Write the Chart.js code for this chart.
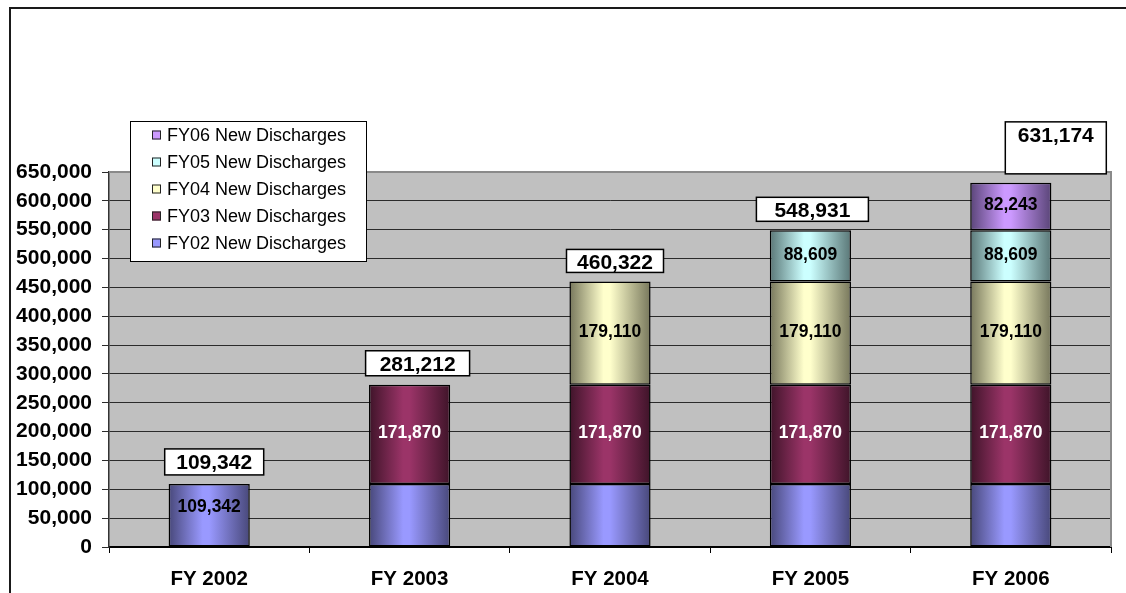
<!DOCTYPE html>
<html>
<head>
<meta charset="utf-8">
<script src="https://cdn.jsdelivr.net/npm/chart.js@4"></script>
<style>
  html, body { margin: 0; padding: 0; background: #fff; }
  #wrap { width: 1126px; height: 593px; }
</style>
</head>
<body>
<div id="wrap"><canvas id="grafico" width="1126" height="593"></canvas></div>
<script>
// dados do grafico
const anos = ['FY 2002', 'FY 2003', 'FY 2004', 'FY 2005', 'FY 2006'];
const fy02 = [109342, 109342, 109342, 109342, 109342];
const fy03 = [null, 171870, 171870, 171870, 171870];
const fy04 = [null, null, 179110, 179110, 179110];
const fy05 = [null, null, null, 88609, 88609];
const fy06 = [null, null, null, null, 82243];
const nomesSeries = ['FY02 New Discharges', 'FY03 New Discharges', 'FY04 New Discharges', 'FY05 New Discharges', 'FY06 New Discharges'];
const yTicks = { min: 0, max: 650000, step: 50000 };

const FONTE = "'Liberation Sans', Arial, sans-serif";
const BAR_PCT = 0.405;

// cores: centro claro e borda escura (efeito cilindro)
const coresCentro = ['#9999ff', '#9b3468', '#ffffcc', '#ccffff', '#cc99ff'];
const coresBorda = ['#48487a', '#3f1429', '#77775c', '#5a7777', '#5a4578'];

// caixas dos totais (deslocamento, largura, altura)
const caixaDx = [5, 8, 5, 2, 45];
const caixaW = [99, 104, 97, 112, 101];
const caixaH = [26, 25, 23, 24, 52];

function fmt(v) { return v.toLocaleString('en-US'); }

function gradiente(idx) {
  return function(c) {
    const chart = c.chart;
    const xs = chart.scales.x;
    if (!xs || !chart.chartArea || c.dataIndex === undefined) return coresCentro[idx];
    const cx = xs.getPixelForValue(c.dataIndex);
    const half = (xs.width / anos.length) * BAR_PCT / 2;
    const g = chart.ctx.createLinearGradient(cx - half, 0, cx + half, 0);
    g.addColorStop(0, coresBorda[idx]);
    g.addColorStop(0.42, coresCentro[idx]);
    g.addColorStop(0.5, coresCentro[idx]);
    g.addColorStop(1, coresBorda[idx]);
    return g;
  };
}

const series = [fy02, fy03, fy04, fy05, fy06];
const totais = anos.map((a, i) => series.reduce((s, d) => s + (d[i] || 0), 0));

const fundoPlot = {
  id: 'fundoPlot',
  beforeDraw(chart) {
    const ctx = chart.ctx, a = chart.chartArea;
    ctx.save();
    ctx.fillStyle = '#fff';
    ctx.fillRect(0, 0, chart.width, chart.height);
    ctx.strokeStyle = '#1a1a1a';
    ctx.lineWidth = 2;
    ctx.beginPath();
    ctx.moveTo(10, chart.height);
    ctx.lineTo(10, 8);
    ctx.lineTo(chart.width, 8);
    ctx.stroke();
    ctx.fillStyle = '#c0c0c0';
    ctx.fillRect(a.left, a.top, a.right - a.left, a.bottom - a.top);
    ctx.restore();
  },
  beforeDatasetsDraw(chart) {
    const ctx = chart.ctx, a = chart.chartArea;
    ctx.save();
    ctx.strokeStyle = '#8a8a8a';
    ctx.lineWidth = 2;
    ctx.beginPath();
    ctx.moveTo(a.left, a.top);
    ctx.lineTo(a.right, a.top);
    ctx.lineTo(a.right, a.bottom);
    ctx.stroke();
    ctx.restore();
  }
};

const rotulos = {
  id: 'rotulos',
  afterDatasetsDraw(chart) {
    const ctx = chart.ctx;
    ctx.save();
    ctx.textAlign = 'center';
    ctx.textBaseline = 'middle';
    ctx.font = 'bold 17.5px ' + FONTE;
    chart.data.datasets.forEach((ds, di) => {
      const meta = chart.getDatasetMeta(di);
      meta.data.forEach((bar, i) => {
        const v = ds.data[i];
        if (v == null) return;
        if (di === 0 && i > 0) return;
        ctx.fillStyle = di === 1 ? '#ffffff' : '#000000';
        const y = (bar.y + bar.base) / 2 - (di === 0 ? 8 : 1);
        ctx.fillText(fmt(v), bar.x, y);
      });
    });
    // caixas com os totais
    const xs = chart.scales.x, ys = chart.scales.y;
    ctx.font = 'bold 21px ' + FONTE;
    totais.forEach((t, i) => {
      const cx = xs.getPixelForValue(i) + caixaDx[i];
      const topo = ys.getPixelForValue(t);
      const h = caixaH[i], w = caixaW[i];
      const y0 = topo - 9 - h;
      ctx.fillStyle = '#fff';
      ctx.fillRect(cx - w / 2, y0, w, h);
      ctx.strokeStyle = '#000';
      ctx.lineWidth = 1.5;
      ctx.strokeRect(cx - w / 2, y0, w, h);
      ctx.fillStyle = '#000';
      ctx.fillText(fmt(t), cx, y0 + 14);
    });
    ctx.restore();
  }
};

const legenda = {
  id: 'legenda',
  afterDraw(chart) {
    const ctx = chart.ctx;
    const bx = 130, by = 121, bw = 236, bh = 140;
    ctx.save();
    ctx.fillStyle = '#fff';
    ctx.fillRect(bx, by, bw, bh);
    ctx.strokeStyle = '#000';
    ctx.lineWidth = 1;
    ctx.strokeRect(bx + 0.5, by + 0.5, bw, bh);
    ctx.font = '18px ' + FONTE;
    ctx.textBaseline = 'middle';
    const n = chart.data.datasets.length;
    for (let k = 0; k < n; k++) {
      const di = n - 1 - k;
      const ds = chart.data.datasets[di];
      const y = 135 + k * 27;
      ctx.fillStyle = coresCentro[di];
      ctx.fillRect(152, y - 4.5, 9, 9);
      ctx.strokeStyle = '#222';
      ctx.strokeRect(152.5, y - 4, 8, 8);
      ctx.fillStyle = '#000';
      ctx.fillText(ds.label, 167, y + 1);
    }
    ctx.restore();
  }
};

const ctx = document.getElementById('grafico').getContext('2d');
const myChart = new Chart(ctx, {
  type: 'bar',
  data: {
    labels: anos,
    datasets: series.map((d, i) => ({
      label: nomesSeries[i],
      data: d,
      backgroundColor: gradiente(i),
      borderColor: '#000',
      borderWidth: 1.5,
      borderSkipped: false,
      barPercentage: BAR_PCT,
      categoryPercentage: 1.0
    }))
  },
  options: {
    responsive: false,
    animation: false,
    layout: { padding: { top: 172, right: 15, left: 0, bottom: 0 } },
    plugins: {
      legend: { display: false },
      tooltip: { enabled: false },
      title: { display: false }
    },
    scales: {
      x: {
        stacked: true,
        afterFit(s) { s.height = 46; },
        grid: { display: true, offset: true, drawOnChartArea: false, drawTicks: true, tickLength: 6, color: '#000' },
        border: { display: true, color: '#000', width: 2 },
        ticks: { color: '#000', padding: 14, font: { family: FONTE, size: 20.5, weight: 'bold' } }
      },
      y: {
        stacked: true,
        min: yTicks.min,
        max: yTicks.max,
        afterFit(s) { s.width = 109; },
        grid: { color: '#2b2b2b', lineWidth: 1, tickLength: 7 },
        border: { display: true, color: '#333', width: 1.5 },
        ticks: {
          stepSize: yTicks.step,
          color: '#000',
          padding: 10,
          font: { family: FONTE, size: 21, weight: 'bold' },
          callback: v => fmt(v)
        }
      }
    }
  },
  plugins: [fundoPlot, rotulos, legenda]
});
</script>
</body>
</html>
